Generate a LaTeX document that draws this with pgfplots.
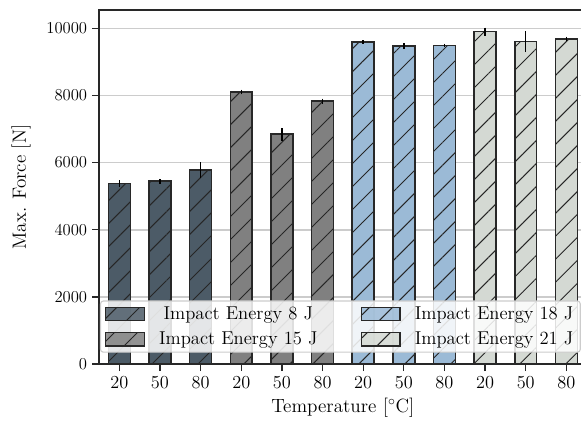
\documentclass[border=0pt]{standalone}
\usepackage{pgfplots}
\pgfplotsset{compat=1.18}
\usetikzlibrary{patterns.meta}
\definecolor{cA}{HTML}{4C5B67}
\definecolor{cB}{HTML}{808080}
\definecolor{cC}{HTML}{9BBAD6}
\definecolor{cD}{HTML}{D4D9D3}
\definecolor{edge}{HTML}{282828}
\definecolor{gridc}{HTML}{CCCCCC}
\begin{document}
\begin{tikzpicture}
\begin{axis}[
  scale only axis,
  width=351.1pt, height=254.9pt,
  font=\fontsize{13.2}{16}\selectfont,
  xmin=-0.5, xmax=11.5, ymin=0, ymax=10545,
  ybar, bar shift=0pt, bar width=0.54,
  xtick={0,...,11},
  xticklabels={20,50,80,20,50,80,20,50,80,20,50,80},
  ytick={0,2000,4000,6000,8000,10000},
  scaled y ticks=false,
  /pgf/number format/1000 sep={},
  tick align=outside, xtick pos=bottom, ytick pos=left,
  major tick length=5pt,
  tick style={edge, line width=0.9pt},
  axis line style={edge, line width=0.9pt},
  ymajorgrids, grid style={gridc, line width=1.1pt},
  xlabel={Temperature [$^\circ$C]},
  ylabel={Max. Force [N]},
  xlabel style={at={(axis description cs:0.5,-0.124)}, anchor=center, font=\fontsize{13.8}{16}\selectfont},
  ylabel style={at={(axis description cs:-0.16,0.5)}, anchor=center, font=\fontsize{13.8}{16}\selectfont},
  every axis plot/.append style={draw=edge, line width=1.1pt,
     postaction={pattern={Lines[angle=45,distance=11.7pt,line width=0.7pt]}, pattern color=black!85}},
  error bars/y dir=both, error bars/y explicit,
  error bars/error mark=none,
  error bars/error bar style={black, line width=1pt},
  legend image code/.code={\draw[#1, sharp corners] (0pt,-4.7pt) rectangle (28pt,4.7pt);},
  legend columns=2, transpose legend,
  legend style={at={(axis description cs:0.002,0.032)}, anchor=south west,
     draw=gridc, line width=0.8pt, rounded corners=2pt, fill=white, fill opacity=0.85, text opacity=1,
     font=\fontsize{13.4}{16}\selectfont, row sep=3.5pt,
     /tikz/every odd column/.append style={column sep=8pt},
     /tikz/every even column/.append style={column sep=29pt}},
]
\addplot[fill=cA] coordinates {(0,5378) +- (0,100) (1,5446) +- (0,70) (2,5774) +- (0,240)};
\addlegendentry{Impact Energy 8 J}
\addplot[fill=cB] coordinates {(3,8104) +- (0,70) (4,6845) +- (0,190) (5,7827) +- (0,80)};
\addlegendentry{Impact Energy 15 J}
\addplot[fill=cC] coordinates {(6,9593) +- (0,50) (7,9474) +- (0,80) (8,9494) +- (0,50)};
\addlegendentry{Impact Energy 18 J}
\addplot[fill=cD] coordinates {(9,9900) +- (0,120) (10,9603) +- (0,310) (11,9682) +- (0,70)};
\addlegendentry{Impact Energy 21 J}
\end{axis}
\pgfresetboundingbox
\path[use as bounding box] ([xshift=-71.28pt,yshift=-43.2pt]current axis.south west) rectangle ([xshift=347pt,yshift=262.1pt]current axis.south west);
\end{tikzpicture}
\end{document}
